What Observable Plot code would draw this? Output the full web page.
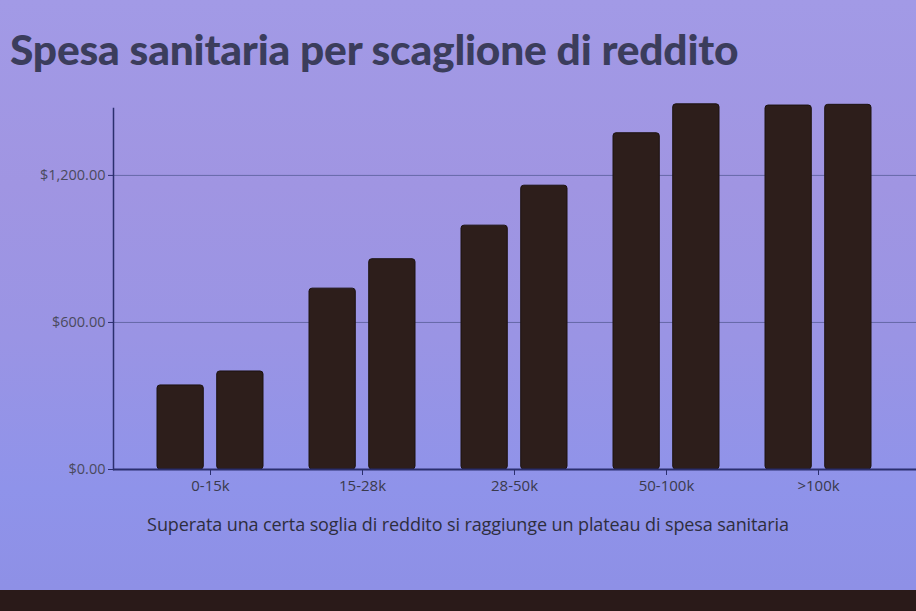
<!DOCTYPE html>
<html>
<head>
<meta charset="utf-8">
<script src="https://cdn.jsdelivr.net/npm/d3@7"></script>
<script src="https://cdn.jsdelivr.net/npm/@observablehq/plot@0.6"></script>
<style>
  html, body { margin: 0; padding: 0; }
  body { width: 916px; height: 611px; overflow: hidden; position: relative;
    background: linear-gradient(180deg, #a29ae6 0%, #a095e2 30%, #9a94e4 55%, #8f93ea 80%, #8e90e6 96%); }
  #title { position: absolute; left: 10px; top: 23px; font-family: Lato, sans-serif; font-weight: 900;
    font-size: 42.5px; color: #3b3d5c; letter-spacing: -0.2px; white-space: nowrap; }
  #chart { position: absolute; left: 0; top: 95px; }
  #caption { position: absolute; left: 0; width: 936px; top: 512px; text-align: center;
    font-family: "Open Sans", sans-serif; font-size: 18px; color: #2e2e3e; letter-spacing: -0.1px; }
  #bottom { position: absolute; left: 0; top: 590px; width: 916px; height: 21px; background: #2a1a19; }
</style>
</head>
<body>
<div id="title">Spesa sanitaria per scaglione di reddito</div>
<div id="chart"></div>
<div id="caption">Superata una certa soglia di reddito si raggiunge un plateau di spesa sanitaria</div>
<div id="bottom"></div>
<script>
const groups = ["0-15k", "15-28k", "28-50k", "50-100k", ">100k"];
const seriesA = [343, 738, 995, 1372, 1485];
const seriesB = [400, 858, 1158, 1490, 1488];
const yTicks = [0, 600, 1200];
const gridTicks = [600, 1200];

const dataA = groups.map((g, i) => ({group: g, value: seriesA[i]}));
const dataB = groups.map((g, i) => ({group: g, value: seriesB[i]}));

const W = 916, H = 410, ML = 113, MR = 0;
const padIn = 0.3, padOut = 0.29, gap = 13;
const step = (W - ML - MR) / (groups.length - padIn + 2 * padOut);
const bw = step * (1 - padIn);
const half = bw / 2 + gap / 2;

const axisColor = "#2b2f6e";
const barFill = "#2d1e1b";

const chart = Plot.plot({
  width: W,
  height: H,
  marginLeft: ML,
  marginRight: MR,
  marginTop: 13,
  marginBottom: 36,
  style: {background: "transparent", fontFamily: "'Open Sans', sans-serif"},
  x: {domain: groups, paddingInner: padIn, paddingOuter: padOut, label: null},
  y: {domain: [0, 1473], label: null},
  marks: [
    Plot.gridY(gridTicks, {stroke: "#5d609c", strokeOpacity: 0.85, strokeWidth: 1}),
    Plot.barY(dataA, {x: "group", y: "value", fill: barFill, stroke: "#1c1210", strokeWidth: 1, rx: 3, insetRight: half}),
    Plot.barY(dataB, {x: "group", y: "value", fill: barFill, stroke: "#1c1210", strokeWidth: 1, rx: 3, insetLeft: half}),
    Plot.frame({anchor: "left", stroke: axisColor, strokeWidth: 1.5}),
    Plot.ruleY([0], {stroke: axisColor, strokeWidth: 2}),
    Plot.axisY(yTicks, {tickFormat: d3.format("$,.2f"), tickSize: 5, tickPadding: 3, fontSize: 14.5,
      color: "#4a4a5e", stroke: axisColor, label: null}),
    Plot.axisX({tickSize: 6, tickPadding: 5, fontSize: 15, color: "#3a3a4c", stroke: axisColor, label: null})
  ]
});
document.getElementById("chart").appendChild(chart);
</script>
</body>
</html>
